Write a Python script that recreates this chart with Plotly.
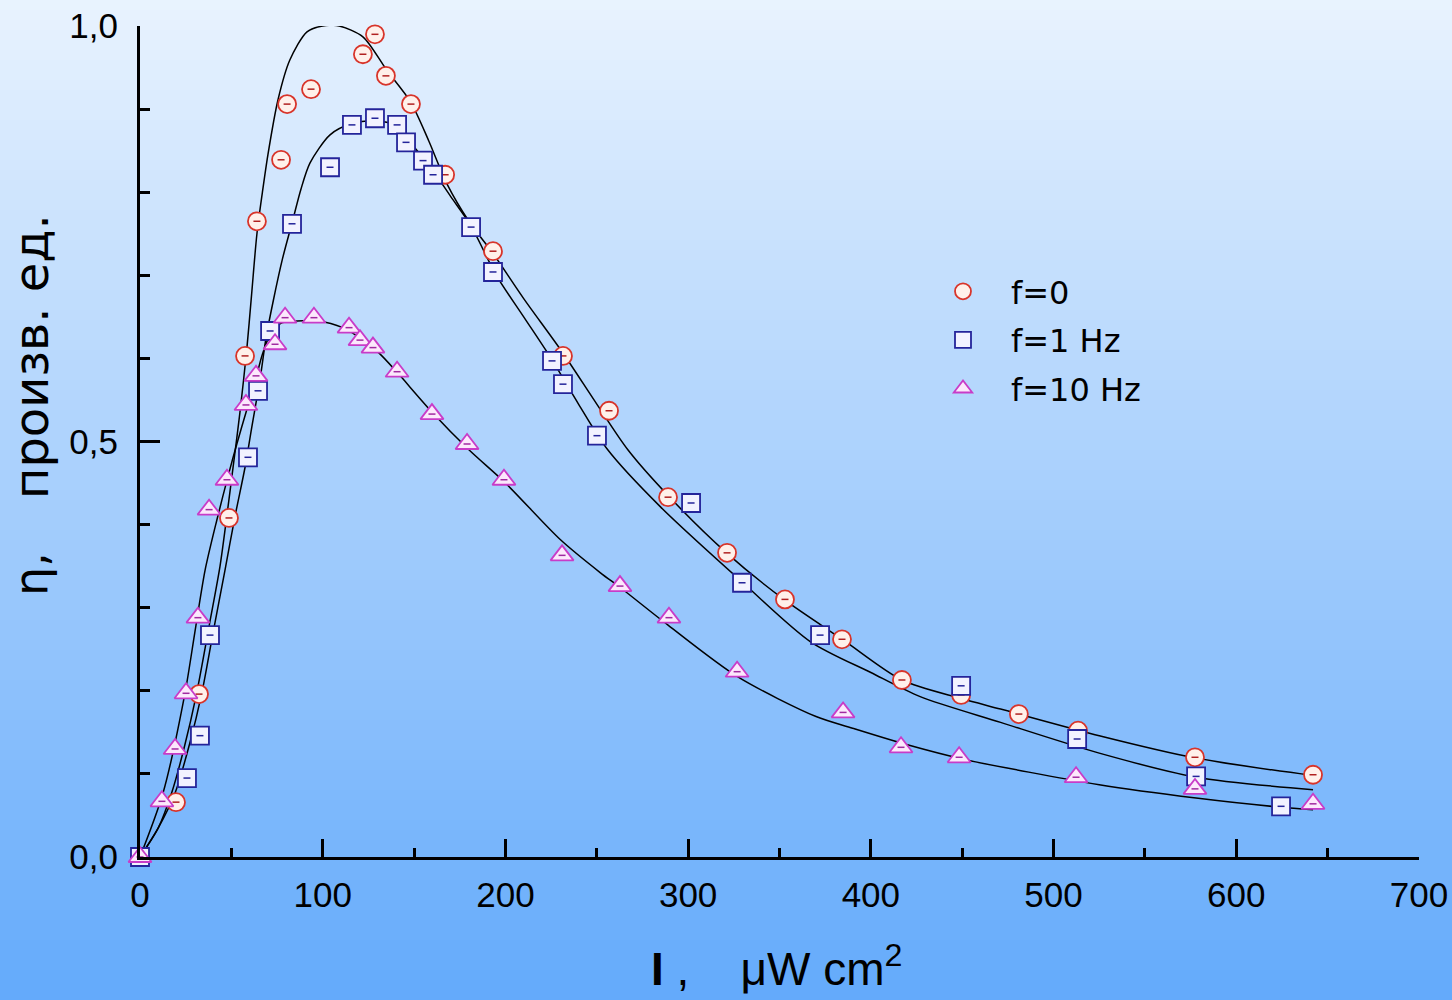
import plotly.graph_objects as go

# ---- data ----
I_f0 = [0, 19.7, 32.3, 48.7, 57.5, 64, 77.2, 80.5, 93.6, 122, 128.6, 134.6, 148.3, 167, 193.2,
        231.5, 256.7, 289, 321.3, 353, 384.2, 417, 449.4, 481, 513.4, 577.4, 642]
eta_f0 = [0, 0.066, 0.196, 0.408, 0.603, 0.765, 0.839, 0.906, 0.924, 0.966, 0.990, 0.940, 0.906,
          0.821, 0.729, 0.603, 0.537, 0.433, 0.366, 0.310, 0.262, 0.213, 0.195, 0.172, 0.152, 0.120, 0.099]

I_f1 = [0, 25.7, 32.8, 38.3, 59.1, 64.6, 71.2, 83.2, 104, 116, 128.6, 140.7, 145.6, 154.9, 160.4,
        181.2, 193.2, 225.5, 231.5, 250.1, 301.6, 329.5, 372.2, 449.4, 512.9, 578, 624.5]
eta_f1 = [0, 0.095, 0.146, 0.267, 0.481, 0.561, 0.633, 0.762, 0.830, 0.881, 0.889, 0.881, 0.860,
          0.838, 0.821, 0.758, 0.704, 0.597, 0.569, 0.507, 0.426, 0.330, 0.267, 0.206, 0.142, 0.097, 0.061]

I_f10 = [0, 12, 19.2, 25.2, 31.7, 37.8, 47.6, 58, 63.5, 73.9, 79.4, 95.2, 114.4, 120.4, 127.5,
         140.7, 159.8, 179, 199.2, 231, 262.7, 289.5, 326.8, 384.8, 416.5, 448.3, 512.3, 577.4, 642]
eta_f10 = [0, 0.067, 0.130, 0.197, 0.288, 0.418, 0.454, 0.544, 0.579, 0.617, 0.649, 0.649, 0.637,
           0.622, 0.613, 0.584, 0.533, 0.497, 0.454, 0.363, 0.326, 0.288, 0.223, 0.174, 0.132,
           0.120, 0.096, 0.082, 0.064]

# fitted curves
fit0_x = [0, 10, 17.3, 24, 31, 38, 43.8, 47.5, 51, 54.7, 58.4, 61, 64, 67, 70, 75.5, 82, 91.4, 100,
          109, 122, 135, 148, 158, 168, 180, 193, 210, 231, 250, 267, 289, 321, 353, 385, 417, 449,
          471, 525, 578, 642]
fit0_y = [0, 0.035, 0.077, 0.13, 0.197, 0.28, 0.35, 0.41, 0.47, 0.535, 0.61, 0.675, 0.75, 0.8,
          0.845, 0.911, 0.959, 0.993, 1.0, 1.0, 0.987, 0.947, 0.909, 0.862, 0.81, 0.765, 0.727,
          0.672, 0.608, 0.545, 0.49, 0.435, 0.366, 0.309, 0.261, 0.213, 0.191, 0.178, 0.146, 0.119, 0.098]

fit1_x = [0, 10, 19.2, 27, 33.8, 40, 46.5, 52, 57.5, 61, 65.7, 69, 73, 78, 83.7, 88, 93, 104, 115,
          128, 140, 149, 159, 170, 181, 195, 210, 225, 240, 256, 285, 330, 367, 400, 427, 471, 525,
          578, 642]
fit1_y = [0, 0.035, 0.077, 0.135, 0.197, 0.27, 0.345, 0.41, 0.469, 0.515, 0.575, 0.625, 0.67, 0.72,
          0.767, 0.803, 0.835, 0.869, 0.882, 0.886, 0.88, 0.857, 0.83, 0.795, 0.76, 0.70, 0.65, 0.60,
          0.545, 0.49, 0.421, 0.33, 0.259, 0.222, 0.193, 0.162, 0.125, 0.096, 0.081]

fit10_x = [0, 12.6, 24.6, 30, 35.6, 42, 49, 53, 58.4, 63, 67, 72, 78, 86, 97, 111, 122, 131, 140,
           160, 180, 200, 230, 252, 263, 289, 327, 370, 390, 420, 450, 525, 578, 624, 642]
fit10_y = [0, 0.077, 0.197, 0.27, 0.345, 0.405, 0.465, 0.497, 0.538, 0.572, 0.605, 0.632, 0.643,
           0.645, 0.645, 0.637, 0.622, 0.606, 0.585, 0.535, 0.49, 0.45, 0.382, 0.342, 0.324, 0.279,
           0.217, 0.169, 0.155, 0.135, 0.118, 0.087, 0.071, 0.060, 0.057]

x_ticks = [0, 100, 200, 300, 400, 500, 600, 700]
y_ticks = [0.0, 0.5, 1.0]
y_ticktext = ["0,0", "0,5", "1,0"]

series = [
    ("f=0", I_f0, eta_f0, fit0_x, fit0_y, "circle", 18, "#d8342a", "#fff0ea", "#b02020"),
    ("f=1 Hz", I_f1, eta_f1, fit1_x, fit1_y, "square", 18, "#24249a", "#f2f2ff", "#24249a"),
    ("f=10 Hz", I_f10, eta_f10, fit10_x, fit10_y, "triangle-up", 20, "#c83cc8", "#fce8fc", "#a02aa0"),
]

fig = go.Figure()

for name, xs, ys, fx, fy, sym, sz, lc, fc, dc in series:
    fig.add_trace(go.Scatter(x=fx, y=fy, mode="lines", showlegend=False, hoverinfo="skip",
                             line=dict(color="black", width=1.5, shape="spline", smoothing=0.8),
                             cliponaxis=False))

for i, (name, xs, ys, fx, fy, sym, sz, lc, fc, dc) in enumerate(series):
    fig.add_trace(go.Scatter(x=xs, y=ys, mode="markers", name=name, legendgroup=name,
                             marker=dict(symbol=sym, size=sz, color=fc, line=dict(color=lc, width=1.8)),
                             cliponaxis=False))
    fig.add_trace(go.Scatter(x=xs, y=ys, mode="markers", showlegend=False, hoverinfo="skip",
                             marker=dict(symbol="line-ew", size=5, line=dict(color=dc, width=1.5)),
                             cliponaxis=False))

# background gradient bands (paper coords covering the full page)
W, H = 1452, 1000
L, R, T, B = 140, 33, 26, 143
pw, ph = W - L - R, H - T - B
top_c = (233, 243, 254)
bot_c = (99, 170, 251)
shapes = []
N = 100
for k in range(N):
    p0 = k * H / N
    p1 = (k + 1) * H / N + 1
    t = (k + 0.5) / N
    col = tuple(int(round(top_c[j] + (bot_c[j] - top_c[j]) * t)) for j in range(3))
    shapes.append(dict(type="rect", xref="paper", yref="paper", layer="below",
                       x0=(0 - L) / pw, x1=(W - L) / pw,
                       y0=(H - B - p1) / ph, y1=(H - B - p0) / ph,
                       line=dict(width=0), fillcolor="rgb(%d,%d,%d)" % col))

font_fam = "Liberation Sans, Arial, sans-serif"
wide_fam = "DejaVu Sans, Verdana, sans-serif"
fig.update_layout(
    width=W, height=H,
    margin=dict(l=L, r=R, t=T, b=B, autoexpand=False),
    paper_bgcolor="rgba(0,0,0,0)", plot_bgcolor="rgba(0,0,0,0)",
    shapes=shapes,
    separators=",.",
    font=dict(family=font_fam, color="black"),
    showlegend=True,
    legend=dict(x=(915 - L) / pw, y=(857 - 264) / ph, xanchor="left", yanchor="top",
                bgcolor="rgba(0,0,0,0)", font=dict(size=32, family=wide_fam),
                traceorder="grouped", tracegroupgap=4, itemwidth=86),
    xaxis=dict(range=[0, 700], showgrid=False, zeroline=False, showline=True, linecolor="black",
               linewidth=3, ticks="inside", ticklen=18, tickwidth=3, tickcolor="black",
               tickvals=x_ticks, tickfont=dict(size=35, family=font_fam),
               ticklabelstandoff=5, automargin=False,
               minor=dict(dtick=50, ticks="inside", ticklen=9, tickwidth=3, tickcolor="black", showgrid=False)),
    yaxis=dict(range=[0, 1], showgrid=False, zeroline=False, showline=True, linecolor="black",
               linewidth=3, ticks="inside", ticklen=20, tickwidth=3, tickcolor="black",
               tickvals=y_ticks, ticktext=y_ticktext, tickfont=dict(size=35, family=font_fam),
               ticklabelstandoff=12, automargin=False,
               minor=dict(dtick=0.1, ticks="inside", ticklen=10, tickwidth=3, tickcolor="black", showgrid=False)),
    annotations=[
        dict(text="<b>I</b> ,\u00a0\u00a0\u00a0 μW cm<sup>2</sup>", xref="paper", yref="paper",
             x=(776 - L) / pw, y=(857 - 966) / ph, xanchor="center", yanchor="middle", showarrow=False,
             font=dict(size=46, family=font_fam, color="black")),
        dict(text="η,", xref="paper", yref="paper",
             x=(31 - L) / pw, y=(857 - 574) / ph, xanchor="center", yanchor="middle",
             textangle=-90, showarrow=False,
             font=dict(size=46, family=wide_fam, color="black")),
        dict(text="произв. ед.", xref="paper", yref="paper",
             x=(31 - L) / pw, y=(857 - 357) / ph, xanchor="center", yanchor="middle",
             textangle=-90, showarrow=False,
             font=dict(size=48, family=wide_fam, color="black")),
    ],
)

fig.write_html("out.html", config={"displayModeBar": False},
               post_script="document.body.style.margin='0';document.body.style.overflow='hidden';")
